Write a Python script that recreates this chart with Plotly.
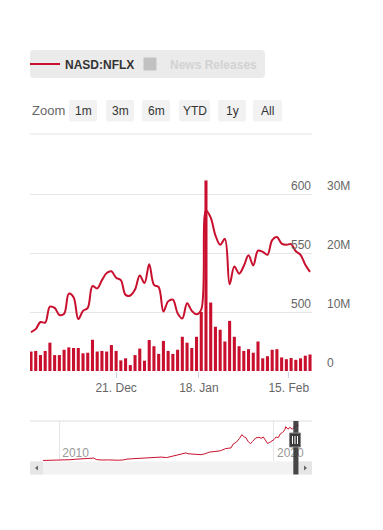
import plotly.graph_objects as go

# ---------------- data ----------------
dates = [
    "2020-11-24", "2020-11-25", "2020-11-27", "2020-11-30",
    "2020-12-01", "2020-12-02", "2020-12-03", "2020-12-04", "2020-12-07", "2020-12-08",
    "2020-12-09", "2020-12-10", "2020-12-11", "2020-12-14", "2020-12-15", "2020-12-16",
    "2020-12-17", "2020-12-18", "2020-12-21", "2020-12-22", "2020-12-23", "2020-12-24",
    "2020-12-28", "2020-12-29", "2020-12-30", "2020-12-31",
    "2021-01-04", "2021-01-05", "2021-01-06", "2021-01-07", "2021-01-08", "2021-01-11",
    "2021-01-12", "2021-01-13", "2021-01-14", "2021-01-15", "2021-01-19", "2021-01-20",
    "2021-01-21", "2021-01-22", "2021-01-25", "2021-01-26", "2021-01-27", "2021-01-28",
    "2021-01-29",
    "2021-02-01", "2021-02-02", "2021-02-03", "2021-02-04", "2021-02-05", "2021-02-08",
    "2021-02-09", "2021-02-10", "2021-02-11", "2021-02-12", "2021-02-16", "2021-02-17",
    "2021-02-18", "2021-02-19", "2021-02-22",
]

price = [
    483.0, 485.5, 491.5, 491.0, 504.5, 503.5, 497.5, 498.5, 515.5, 512.5,
    494.0, 501.0, 503.5, 522.0, 520.0, 527.0, 533.0, 534.5, 529.0, 527.0,
    514.5, 514.0, 519.0, 531.0, 524.5, 540.5, 523.0, 521.0, 500.5, 509.0,
    510.5, 499.0, 494.5, 507.5, 501.0, 498.0, 502.0, 586.0, 580.0, 565.0,
    557.0, 562.0, 523.5, 538.5, 532.5, 539.0, 548.0, 539.5, 552.0, 551.0,
    548.5, 561.0, 563.5, 558.0, 557.0, 557.5, 551.5, 548.5, 540.0, 534.0,
]

volume_m = [
    3.3, 3.4, 2.7, 3.4, 4.8, 2.7, 2.7, 3.6, 4.0, 3.9,
    3.9, 3.0, 3.1, 5.3, 3.3, 3.4, 3.3, 4.4, 3.4, 1.8,
    2.15, 1.0, 2.7, 3.8, 1.75, 5.25, 4.2, 2.9, 5.1, 3.4,
    2.9, 3.6, 5.8, 4.8, 3.9, 5.8, 10.0, 32.3, 11.6, 7.5,
    7.0, 5.0, 8.5, 5.8, 4.2, 3.4, 3.7, 3.1, 5.0, 2.15,
    2.5, 3.6, 3.7, 2.3, 2.0, 2.2, 1.9, 2.15, 2.6, 2.8,
]

tick_dates = ["2020-12-21", "2021-01-18", "2021-02-15"]
tick_labels = ["21. Dec", "18. Jan", "15. Feb"]

price_ticks = [500, 550, 600]
volume_ticks = [0, 10e6, 20e6, 30e6]
volume_tick_labels = ["0", "10M", "20M", "30M"]

nav_years = [
    2009.25, 2009.5, 2009.75, 2010.0, 2010.25, 2010.5, 2010.75, 2011.0, 2011.25, 2011.5,
    2011.6, 2011.75, 2011.9, 2012.0, 2012.25, 2012.5, 2012.75, 2013.0, 2013.15, 2013.4,
    2013.6, 2013.8, 2014.0, 2014.25, 2014.5, 2014.75, 2015.0, 2015.25, 2015.5, 2015.7,
    2015.9, 2016.0, 2016.25, 2016.4, 2016.6, 2016.75, 2016.9, 2017.0, 2017.25, 2017.5,
    2017.75, 2018.0, 2018.1, 2018.25, 2018.4, 2018.5, 2018.6, 2018.7, 2018.8, 2018.9,
    2019.0, 2019.15, 2019.3, 2019.4, 2019.5, 2019.6, 2019.7, 2019.8, 2019.9, 2020.0,
    2020.1, 2020.2, 2020.3, 2020.4, 2020.5, 2020.55, 2020.65, 2020.75, 2020.85, 2020.95,
    2021.05, 2021.14,
]
nav_values = [
    5, 6, 7, 8, 14, 17, 24, 28, 34, 38,
    42, 18, 11, 12, 14, 10, 9, 14, 26, 32,
    36, 48, 52, 55, 62, 58, 50, 70, 98, 105,
    122, 110, 100, 97, 95, 105, 125, 135, 145, 155,
    190, 200, 260, 290, 350, 405, 375, 355, 300, 265,
    300, 355, 365, 350, 370, 320, 270, 285, 310, 330,
    370, 360, 420, 440, 480, 530, 490, 520, 490, 520,
    560, 545,
]
nav_ticks = [2010, 2020]
nav_tick_labels = ["2010", "2020"]

zoom_buttons = ["1m", "3m", "6m", "YTD", "1y", "All"]

# ---------------- helpers ----------------
W, H = 383, 530
FONT = "Liberation Sans"
RED = "#c8102e"


def px(x):
    return x / W


def py(y):
    return 1 - y / H


idx = list(range(len(dates)))


def date_pos(d):
    for i, dd in enumerate(dates):
        if dd == d:
            return i
        if dd > d:
            return i - 0.5
    return len(dates) - 1


tick_pos = [date_pos(d) for d in tick_dates]
last = len(dates) - 1
x_range = [-0.21, last + 0.42]

fig = go.Figure()

fig.add_trace(go.Bar(
    x=idx, y=[v * 1e6 for v in volume_m], xaxis="x", yaxis="y",
    marker=dict(color=RED, line=dict(width=0)), showlegend=False,
    customdata=dates, hovertemplate="%{customdata}<br>Volume %{y:,.0f}<extra></extra>",
))
fig.add_trace(go.Scatter(
    x=idx, y=price, xaxis="x", yaxis="y2", mode="lines", name="NASD:NFLX",
    line=dict(color=RED, width=2, shape="spline"), legend="legend", showlegend=True,
    customdata=dates, hovertemplate="%{customdata}<br>%{y:.2f}<extra></extra>",
))
fig.add_trace(go.Scatter(
    x=[None], y=[None], xaxis="x", yaxis="y2", mode="markers", name="News Releases",
    marker=dict(symbol="square", size=13, color="#999999"),
    visible="legendonly", legend="legend2", showlegend=True,
))
fig.add_trace(go.Scatter(
    x=nav_years, y=nav_values, xaxis="x2", yaxis="y3", mode="lines",
    line=dict(color=RED, width=1), showlegend=False, hoverinfo="skip",
))

axis_font = dict(family=FONT, size=12, color="#666666")


def rounded_rect(x0, y0, x1, y1, r):
    rx, ry = r / W, r / H
    X0, X1 = px(x0), px(x1)
    Y0, Y1 = py(y0), py(y1)  # Y0 top, Y1 bottom
    return (f"M{X0 + rx},{Y0} L{X1 - rx},{Y0} Q{X1},{Y0} {X1},{Y0 - ry} "
            f"L{X1},{Y1 + ry} Q{X1},{Y1} {X1 - rx},{Y1} L{X0 + rx},{Y1} "
            f"Q{X0},{Y1} {X0},{Y1 + ry} L{X0},{Y0 - ry} Q{X0},{Y0} {X0 + rx},{Y0} Z")


shapes = [
    dict(type="path", xref="paper", yref="paper", path=rounded_rect(30, 50, 265, 78, 4),
         fillcolor="#ebebeb", line=dict(width=0), layer="below"),
    dict(type="line", xref="paper", yref="paper", x0=px(30), x1=px(312), y0=py(134), y1=py(134),
         line=dict(color="#e3e3e3", width=1)),
    dict(type="line", xref="paper", yref="paper", x0=px(30), x1=px(312), y0=py(421), y1=py(421),
         line=dict(color="#dddddd", width=1)),
    dict(type="rect", xref="paper", yref="paper", x0=px(30), x1=px(312), y0=py(474.5), y1=py(461.5),
         fillcolor="#f2f2f2", line=dict(width=0)),
    dict(type="rect", xref="paper", yref="paper", x0=px(30), x1=px(43), y0=py(474.5), y1=py(461.5),
         fillcolor="#e6e6e6", line=dict(width=0)),
    dict(type="rect", xref="paper", yref="paper", x0=px(299), x1=px(312), y0=py(474.5), y1=py(461.5),
         fillcolor="#e6e6e6", line=dict(width=0)),
    dict(type="path", xref="paper", yref="paper",
         path=f"M{px(35)},{py(468)} L{px(38)},{py(465.5)} L{px(38)},{py(470.5)} Z",
         fillcolor="#666666", line=dict(width=0)),
    dict(type="path", xref="paper", yref="paper",
         path=f"M{px(307)},{py(468)} L{px(304)},{py(465.5)} L{px(304)},{py(470.5)} Z",
         fillcolor="#666666", line=dict(width=0)),
    dict(type="rect", xref="x2", yref="paper", x0=2020.9, x1=2021.14, y0=py(474.5), y1=py(421),
         fillcolor="#333333", opacity=0.9, line=dict(width=0)),
    dict(type="rect", xref="paper", yref="paper", x0=px(289.5), x1=px(300.5), y0=py(447), y1=py(433),
         fillcolor="#3a3a3a", line=dict(color="#888888", width=1)),
]
for hx in [292.5, 295, 297.5]:
    shapes.append(dict(type="line", xref="paper", yref="paper", x0=px(hx), x1=px(hx),
                       y0=py(444), y1=py(436), line=dict(color="#ffffff", width=1)))

annotations = [dict(
    text="Zoom", xref="paper", yref="paper", x=px(30), y=py(110.5),
    xanchor="left", yanchor="middle", showarrow=False,
    font=dict(family=FONT, size=13, color="#666666"),
)]

btn_left = [69, 106, 142, 179, 218, 253]
btn_width = [28, 28, 28, 31, 28, 29]
for lab, left, bw in zip(zoom_buttons, btn_left, btn_width):
    shapes.append(dict(type="path", xref="paper", yref="paper",
                       path=rounded_rect(left, 100, left + bw, 121.5, 2),
                       fillcolor="#f2f2f2", line=dict(width=0), layer="below"))
    annotations.append(dict(
        text=lab, xref="paper", yref="paper", x=px(left + bw / 2), y=py(110.8),
        xanchor="center", yanchor="middle", showarrow=False,
        font=dict(family=FONT, size=12, color="#333333"),
    ))

fig.update_layout(
    width=W, height=H, autosize=False,
    margin=dict(l=0, r=0, t=0, b=0),
    paper_bgcolor="#ffffff", plot_bgcolor="rgba(0,0,0,0)",
    font=dict(family=FONT, size=12, color="#333333"),
    bargap=0.35,
    hovermode="closest",
    showlegend=True,
    xaxis=dict(
        domain=[px(30), px(312)], anchor="y", range=x_range,
        tickmode="array", tickvals=tick_pos, ticktext=tick_labels,
        ticks="outside", ticklen=6, tickcolor="#ccd6eb", tickfont=axis_font,
        showgrid=False, zeroline=False, showline=False, fixedrange=True,
    ),
    yaxis=dict(
        domain=[py(371), py(176)], anchor="x", side="right",
        range=[0, (371 - 176) / 5.9 * 1e6],
        tickmode="array", tickvals=volume_ticks, ticktext=volume_tick_labels,
        ticklabelposition="outside top", ticklabelstandoff=14, ticks="",
        tickfont=axis_font, showgrid=True, gridcolor="#e6e6e6", gridwidth=1,
        zeroline=False, showline=False, fixedrange=True,
    ),
    yaxis2=dict(
        overlaying="y", anchor="x", side="right",
        range=[450, 450 + (371 - 176) / 59 * 50],
        tickmode="array", tickvals=price_ticks,
        ticklabelposition="inside top", ticks="", ticklabelstandoff=-2,
        tickfont=axis_font, showgrid=False, zeroline=False, showline=False, fixedrange=True,
    ),
    xaxis2=dict(
        domain=[px(30), px(312)], anchor="y3", range=[2008.64, 2021.77],
        tickmode="array", tickvals=nav_ticks, ticktext=nav_tick_labels,
        ticklabelposition="inside right", ticks="", ticklabelstandoff=-4, ticklabelshift=3,
        tickfont=dict(family=FONT, size=12, color="#999999"),
        showgrid=True, gridcolor="#e6e6e6", zeroline=False, showline=False, fixedrange=True,
    ),
    yaxis3=dict(domain=[py(461), py(421)], anchor="x2", range=[-3, 618], visible=False,
                fixedrange=True),
    legend=dict(
        x=px(25), xanchor="left", y=py(64), yanchor="middle", orientation="h",
        bgcolor="rgba(0,0,0,0)", borderwidth=0,
        font=dict(family=FONT, size=12, color="#333333", weight="bold"),
    ),
    legend2=dict(
        x=px(130), xanchor="left", y=py(64), yanchor="middle", orientation="h",
        bgcolor="rgba(0,0,0,0)", borderwidth=0,
        font=dict(family=FONT, size=12, color="#bbbbbb", weight="bold"),
    ),
    annotations=annotations,
    shapes=shapes,
)

fig.write_html("out.html", config={"displayModeBar": False},
               post_script="document.body.style.margin='0';")
